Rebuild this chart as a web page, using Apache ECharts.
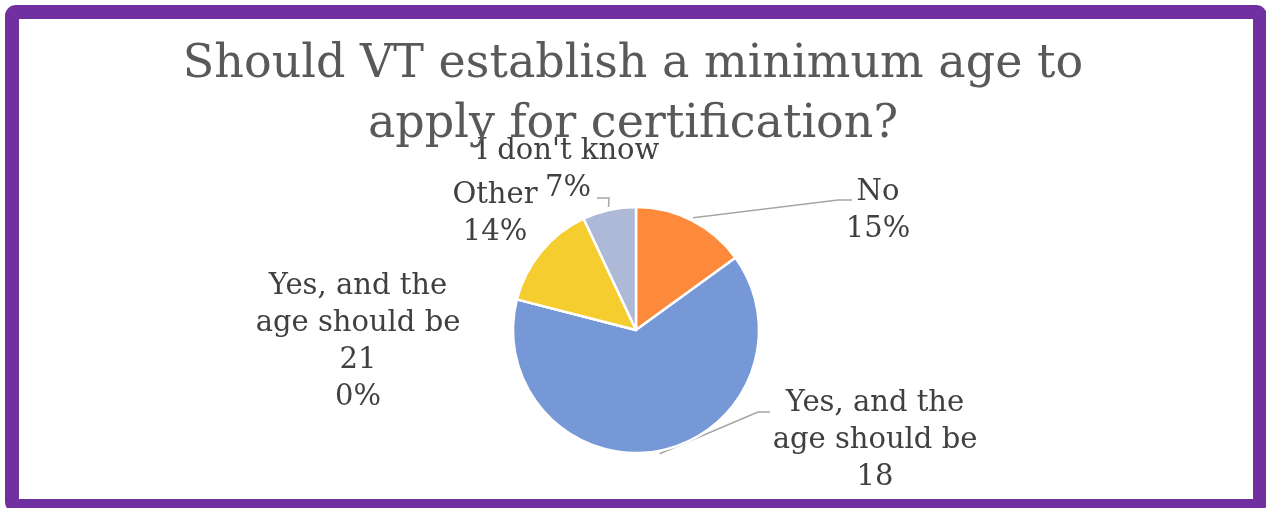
<!DOCTYPE html>
<html>
<head>
<meta charset="utf-8">
<script src="https://cdn.jsdelivr.net/npm/echarts@6/dist/echarts.min.js"></script>
<style>
  html, body { margin: 0; padding: 0; background: #ffffff; }
  #chart { width: 1266px; height: 508px; }
</style>
</head>
<body>
<div id="chart"></div>
<script>
// Survey answers and their shares (percent)
const categories = ['No', 'Yes, and the age should be 18', 'Yes, and the age should be 21', 'Other', "I don't know"];
const shares = [15, 64, 0, 14, 7];
const sliceColors = ['#FC8A3A', '#7698D7', '#A5A5A5', '#F5CD2F', '#ADB9D6'];

const FONT = '"DejaVu Serif", "Liberation Serif", serif';
const PIE_CENTER = [636, 330];
const PIE_RADIUS = 123;
const LEADER_GAP = 3; // leader lines start just outside the rim

// Where each label sits (centre of the text block) and how its leader line bends
const labelSpots = {
  0: { x: 878, y: 211, elbow: [[838, 200], [852, 200]] },
  1: { x: 875, y: 459, elbow: [[758, 412], [770, 412]] },
  2: { x: 358, y: 342, elbow: null },
  3: { x: 495, y: 214, elbow: null },
  4: { x: 568, y: 170, elbow: [[609, 198], [597, 198]] }
};

const chart = echarts.init(document.getElementById('chart'), null, { renderer: 'canvas' });

chart.setOption({
  animation: false,
  backgroundColor: '#ffffff',
  title: {
    text: 'Should VT establish a minimum age to\napply for certification?',
    left: 'center',
    top: 35,
    padding: 0,
    textStyle: {
      fontFamily: FONT,
      fontWeight: 'normal',
      fontSize: 46,
      lineHeight: 60,
      color: '#595959'
    }
  },
  graphic: [{
    type: 'rect',
    z: 100,
    shape: { x: 12, y: 12, width: 1248, height: 494, r: 4 },
    style: { fill: 'none', stroke: '#7030A0', lineWidth: 14 }
  }],
  series: [{
    type: 'pie',
    center: PIE_CENTER,
    radius: PIE_RADIUS,
    startAngle: 90,
    clockwise: true,
    avoidLabelOverlap: false,
    itemStyle: { borderColor: '#ffffff', borderWidth: 2.5 },
    label: {
      show: true,
      fontFamily: FONT,
      fontSize: 29,
      lineHeight: 37,
      color: '#404040',
      align: 'center',
      formatter: function (p) {
        const name = p.name.replace('Yes, and the age should be ', 'Yes, and the\nage should be\n');
        return name + '\n' + Math.round(p.percent) + '%';
      }
    },
    labelLine: {
      show: true,
      showAbove: true,
      lineStyle: { color: '#A6A6A6', width: 1.5 }
    },
    labelLayout: function (params) {
      const spot = labelSpots[params.dataIndex];
      const out = { x: spot.x, y: spot.y, align: 'center', verticalAlign: 'middle' };
      if (spot.elbow && params.labelLinePoints) {
        const rim = params.labelLinePoints[0];
        const k = (PIE_RADIUS + LEADER_GAP) / PIE_RADIUS;
        const start = [
          PIE_CENTER[0] + (rim[0] - PIE_CENTER[0]) * k,
          PIE_CENTER[1] + (rim[1] - PIE_CENTER[1]) * k
        ];
        out.labelLinePoints = [start, spot.elbow[0], spot.elbow[1]];
      }
      return out;
    },
    data: categories.map(function (name, i) {
      const item = {
        name: name,
        value: shares[i],
        itemStyle: { color: sliceColors[i] }
      };
      if (!labelSpots[i].elbow) {
        item.labelLine = { show: false };
      }
      return item;
    })
  }]
});
</script>
</body>
</html>
